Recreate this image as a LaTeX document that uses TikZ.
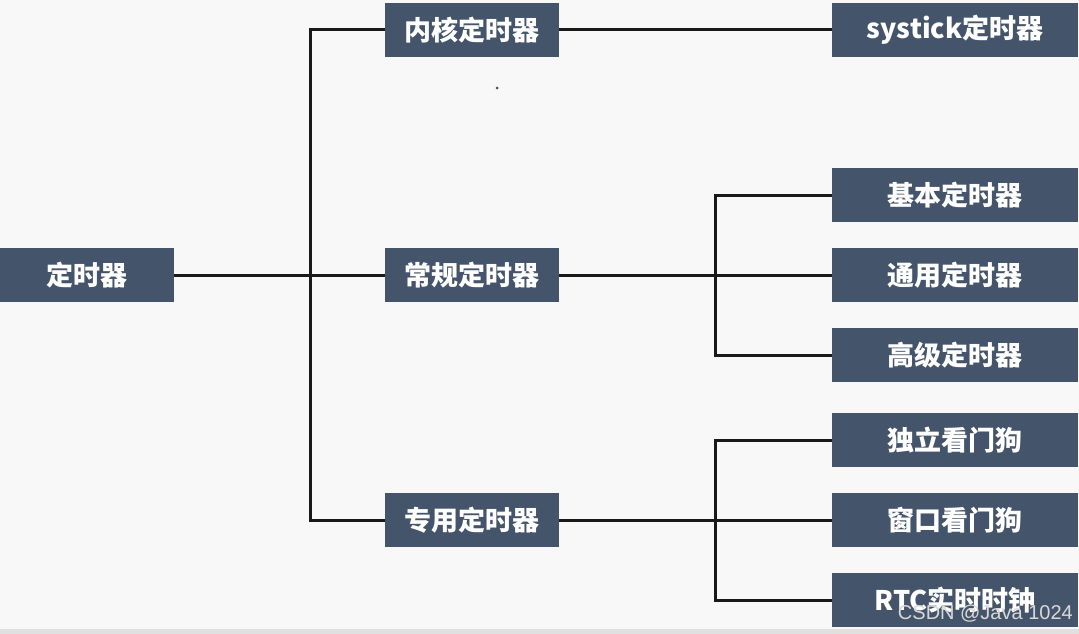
\documentclass[tikz,border=0pt]{standalone}
\usepackage{fontspec}
\newfontfamily\cjk{Noto Sans CJK SC}
\newfontfamily\wmfont{Liberation Sans}
\definecolor{boxfill}{HTML}{44546A}
\definecolor{bgc}{HTML}{F8F8F8}
\definecolor{wmc}{HTML}{D8D8D8}
\begin{document}
\begin{tikzpicture}[x=1pt,y=-1pt,
  box/.style={draw=none,fill=boxfill,text=white,font=\cjk\bfseries\fontsize{27}{31}\selectfont,
    minimum height=54pt,inner sep=0pt,anchor=center},
  midbox/.style={box,minimum width=174pt},
  rbox/.style={box,minimum width=246pt},
  link/.style={line width=3pt,draw=black!90}]
\fill[bgc] (0,0) rectangle (1079,634);
\useasboundingbox (0,0) rectangle (1079,634);
\fill[black!12] (0,629) rectangle (1079,634);
% nodes
\node[midbox] (root) at (87,275) {定时器};
\node[midbox] (kern) at (472,30) {内核定时器};
\node[midbox] (norm) at (472,275) {常规定时器};
\node[midbox] (spec) at (472,520) {专用定时器};
\node[rbox] (sys) at (955,30) {systick定时器};
\node[rbox] (basic) at (955,195) {基本定时器};
\node[rbox] (gen) at (955,275) {通用定时器};
\node[rbox] (adv) at (955,355) {高级定时器};
\node[rbox] (iwdg) at (955,440) {独立看门狗};
\node[rbox] (wwdg) at (955,520) {窗口看门狗};
\node[rbox] (rtc) at (955,600) {RTC实时时钟};
% junctions
\coordinate (j1) at (310,275);
\coordinate (j2) at (715,275);
\coordinate (j3) at (715,520);
% connectors
\draw[link] (root.east) -- (j1);
\draw[link] (j1) |- (kern.west);
\draw[link] (j1) -- (norm.west);
\draw[link] (j1) |- (spec.west);
\draw[link] (kern.east) -- (sys.west);
\draw[link] (norm.east) -- (j2) -- (gen.west);
\draw[link] (j2) |- (basic.west);
\draw[link] (j2) |- (adv.west);
\draw[link] (spec.east) -- (j3) -- (wwdg.west);
\draw[link] (j3) |- (iwdg.west);
\draw[link] (j3) |- (rtc.west);
% stray dot
\fill[black!70] (497,88) circle (1.5pt);
% watermark
\node[anchor=south east,inner sep=0pt,text=wmc,font=\wmfont\fontsize{20}{22}\selectfont] (wm) at (1073,622) {CSDN @Java 1024};
\end{tikzpicture}
\end{document}
